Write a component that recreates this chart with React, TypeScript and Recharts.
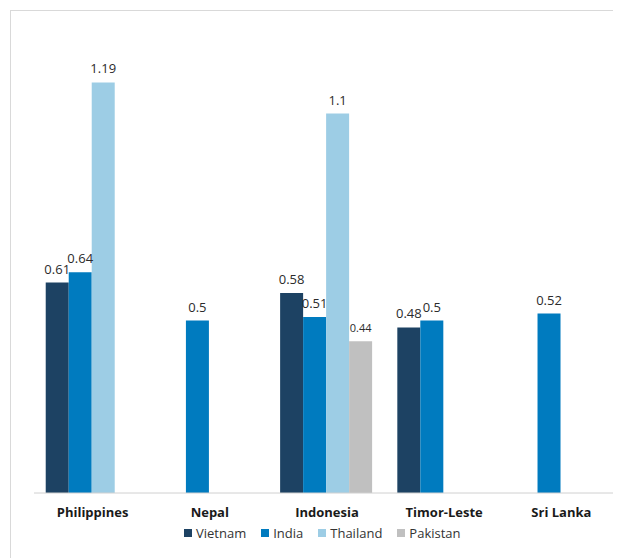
import { BarChart, Bar, XAxis, YAxis, LabelList } from "recharts";

const categories = ["Philippines", "Nepal", "Indonesia", "Timor-Leste", "Sri Lanka"];
const vietnam = [0.61, null, 0.58, 0.48, null];
const india = [0.64, 0.5, 0.51, 0.5, 0.52];
const thailand = [1.19, null, 1.1, null, null];
const pakistan = [null, null, 0.44, null, null];

const series = [
  { key: "Vietnam", color: "#1d4263", values: vietnam, labelSize: 13 },
  { key: "India", color: "#007bbf", values: india, labelSize: 13 },
  { key: "Thailand", color: "#9dcde5", values: thailand, labelSize: 13 },
  { key: "Pakistan", color: "#c0c0c0", values: pakistan, labelSize: 11 },
];

const data = categories.map((name, i) => {
  const row: Record<string, string | number | null> = { name };
  series.forEach((s) => (row[s.key] = s.values[i]));
  return row;
});

const FONT = "'Open Sans', 'Noto Sans', sans-serif";

function CategoryTick(props: any) {
  const { x, y, payload } = props;
  return (
    <text
      x={x}
      y={y + 24}
      textAnchor="middle"
      fontFamily={FONT}
      fontSize={13}
      fontWeight={700}
      fill="#1a1a1a"
    >
      {payload.value}
    </text>
  );
}

function LegendRow() {
  return (
    <div
      style={{
        position: "absolute",
        left: 176,
        top: 516,
        display: "flex",
        gap: 15,
        fontFamily: FONT,
        fontSize: 13,
        lineHeight: "18px",
        color: "#333333",
      }}
    >
      {series.map((s) => (
        <div key={s.key} style={{ display: "flex", alignItems: "center" }}>
          <span
            style={{
              width: 8,
              height: 8,
              background: s.color,
              display: "inline-block",
              marginRight: 4,
            }}
          />
          {s.key}
        </div>
      ))}
    </div>
  );
}

export default function App() {
  return (
    <div style={{ position: "relative", width: 613, height: 550 }}>
      <div
        style={{
          position: "absolute",
          left: 2,
          top: 2,
          width: 640,
          height: 580,
          border: "1px solid #d9d9d9",
          boxSizing: "border-box",
        }}
      />
      <div style={{ position: "absolute", left: 0, top: 0 }}>
        <BarChart
          width={613}
          height={550}
          data={data}
          margin={{ top: 2, right: 1, bottom: 35, left: 26 }}
          barGap={0}
          barCategoryGap="10%"
        >
          <XAxis
            dataKey="name"
            height={30}
            tickLine={false}
            tickSize={0}
            tickMargin={0}
            axisLine={{ stroke: "#d0d0d0" }}
            tick={<CategoryTick />}
            interval={0}
          />
          <YAxis hide domain={[0, 1.4]} />
          {series.map((s) => (
            <Bar
              key={s.key}
              dataKey={s.key}
              fill={s.color}
              isAnimationActive={false}
            >
              <LabelList
                dataKey={s.key}
                position="top"
                offset={9}
                fontFamily={FONT}
                fontSize={s.labelSize}
                fill="#2b2b2b"
                formatter={(v: any) => (v == null ? "" : v)}
              />
            </Bar>
          ))}
        </BarChart>
      </div>
      <LegendRow />
    </div>
  );
}
